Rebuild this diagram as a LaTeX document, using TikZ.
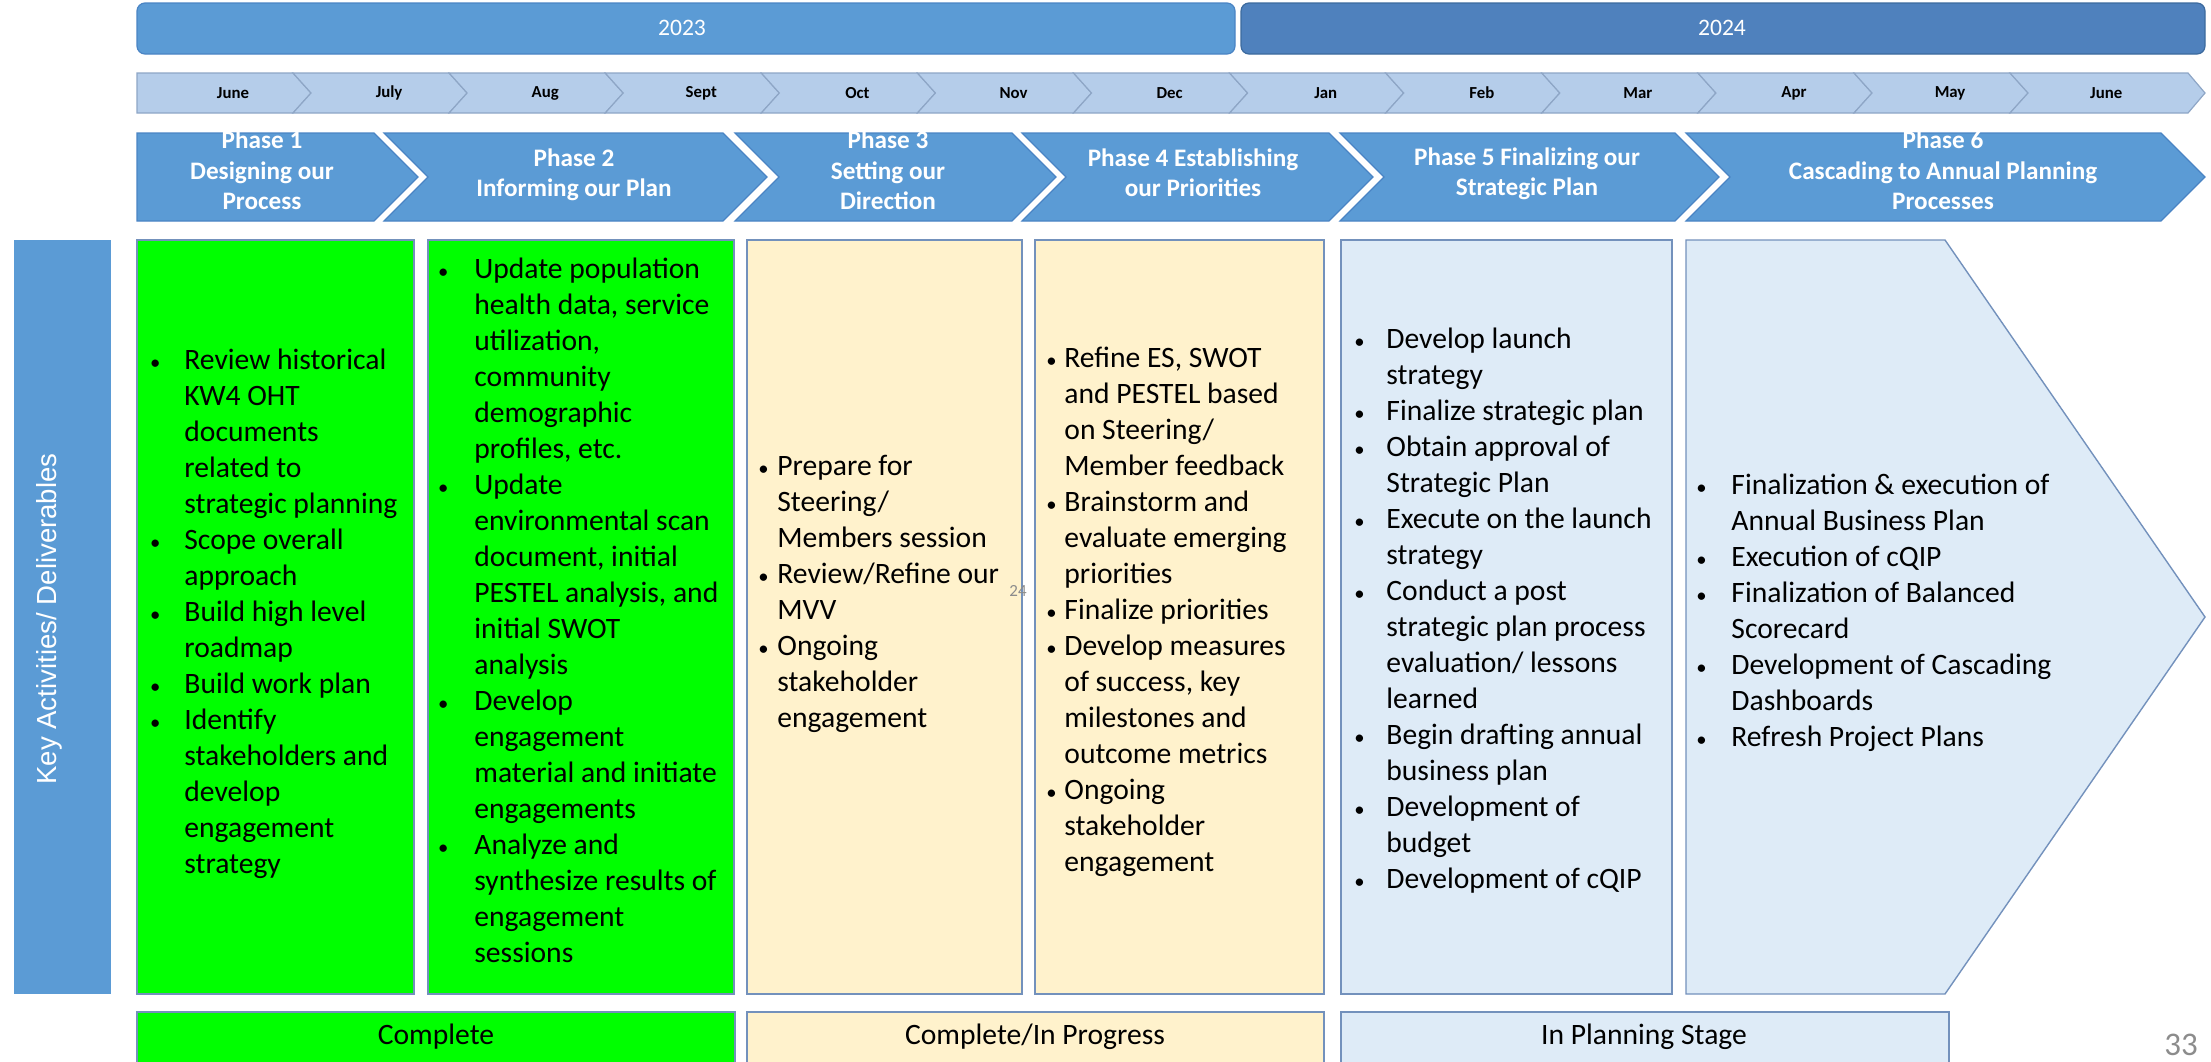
\documentclass[tikz,border=0pt]{standalone}
\usepackage{fontspec}
\setmainfont{Carlito}
\newfontfamily\arialfont{Liberation Sans}
\usetikzlibrary{positioning}
\definecolor{hdrblue}{HTML}{5B9BD5}
\definecolor{hdredge}{HTML}{4A84C4}
\definecolor{yrblue}{HTML}{4F81BD}
\definecolor{yredge}{HTML}{3C6A9E}
\definecolor{monfill}{HTML}{B5CDEA}
\definecolor{monedge}{HTML}{8EA6C6}
\definecolor{done}{HTML}{00FF00}
\definecolor{cream}{HTML}{FFF2CC}
\definecolor{paleblue}{HTML}{DEEBF7}
\definecolor{boxedge}{HTML}{7391BC}
\definecolor{muted}{HTML}{8C8C8C}
\newcommand{\bi}{\llap{\makebox[0pt]{\scalebox{0.7}{\textbullet}}\hspace*{\bd}}}
\def\bd{15pt}

\begin{document}
\begin{tikzpicture}[x=0.5pt, y=-0.5pt,
  chev/.style={fill=hdrblue, draw=hdredge, line width=0.6pt},
  monseg/.style={fill=monfill, draw=monedge, line width=0.6pt},
  panel/.style={draw=boxedge, line width=0.7pt},
  mon/.style={font=\fontsize{8.4}{10}\selectfont\bfseries, inner sep=0pt},
  yr/.style={font=\fontsize{11.8}{14}\selectfont, text=white, inner sep=0pt},
  phs/.style={font=\fontsize{12.6}{15.2}\selectfont\bfseries, text=white, align=center, inner sep=0pt,
    execute at begin node=\strut, execute at end node=\strut},
  txt/.style={font=\fontsize{14.8}{18}\selectfont, align=left, anchor=west, inner sep=0pt,
    execute at begin node=\strut, execute at end node=\strut},
  bgap/.code={\gdef\bd{#1}},
  stat/.style={font=\fontsize{14.8}{18}\selectfont, inner sep=0pt}]
  \useasboundingbox (0,0) rectangle (2211,1061);
  \clip (0,0) rectangle (2211,1061);

  % years
  \filldraw[fill=hdrblue, draw=hdredge, line width=0.6pt, rounded corners=4pt] (137,3) rectangle (1235,54);
  \filldraw[fill=yrblue, draw=yredge, line width=0.6pt, rounded corners=4pt] (1241,3) rectangle (2205,54);
  \node[yr] (y23) at (682,28) {2023};
  \node[yr] (y24) at (1722,28) {2024};

  % months
  \filldraw[monseg] (137,73) -- (293,73) -- (311,93) -- (293,113) -- (137,113) -- cycle;
  \foreach \k in {0,...,10} {
    \pgfmathsetmacro\xa{293+156.1*\k}
    \pgfmathsetmacro\xb{\xa+156.1}
    \filldraw[monseg] (\xa,73) -- (\xb,73) -- ({\xb+18},93) -- (\xb,113) -- (\xa,113) -- ({\xa+18},93) -- cycle;
  }
  \filldraw[monseg] (2010,73) -- (2188,73) -- (2205,93) -- (2188,113) -- (2010,113) -- (2028,93) -- cycle;
  \foreach \m [count=\i from 0] in {June,July,Aug,Sept,Oct,Nov,Dec,Jan,Feb,Mar,Apr,May,June}
    \node[mon] (m\i) at ({233+156.1*\i},93) {\m};

  % phases
  \filldraw[chev] (137,133) -- (374,133) -- (418,177) -- (374,221) -- (137,221) -- cycle;
  \foreach \l/\c in {384/723, 735/1012, 1022/1329, 1340/1675, 1686/2161}
    \filldraw[chev] (\l,133) -- (\c,133) -- ({\c+44},177) -- (\c,221) -- (\l,221) -- ({\l+44},177) -- cycle;
  \node[phs] (ph1) at (262,175) {Phase 1\\Designing our\\Process};
  \node[phs] (ph2) at (574,177) {Phase 2\\Informing our Plan};
  \node[phs] (ph3) at (888,175) {Phase 3\\Setting our\\Direction};
  \node[phs] (ph4) at (1193,177) {Phase 4 Establishing\\our Priorities};
  \node[phs] (ph5) at (1527,176) {Phase 5 Finalizing our\\Strategic Plan};
  \node[phs] (ph6) at (1943,175) {Phase 6\\Cascading to Annual Planning\\Processes};

  % side label
  \fill[hdrblue] (14,240) rectangle (111,994);
  \node[rotate=90, text=white, inner sep=0pt, font=\arialfont\fontsize{13.8}{16}\selectfont] (key) at (49,619) {Key Activities/ Deliverables};

  % panels
  \filldraw[panel, fill=done] (137,240) rectangle (414,994);
  \filldraw[panel, fill=done] (428,240) rectangle (734,994);
  \filldraw[panel, fill=cream] (747,240) rectangle (1022,994);
  \filldraw[panel, fill=cream] (1035,240) rectangle (1324,994);
  \filldraw[panel, fill=paleblue] (1341,240) rectangle (1672,994);
  \filldraw[panel, fill=paleblue] (1686,240) -- (1945,240) -- (2205,617) -- (1945,994) -- (1686,994) -- cycle;

  \node[txt, bgap=14.5pt] (b1) at (184,617) {\bi Review historical\\KW4 OHT\\documents\\related to\\strategic planning\\
    \bi Scope overall\\approach\\\bi Build high level\\roadmap\\\bi Build work plan\\
    \bi Identify\\stakeholders and\\develop\\engagement\\strategy};
  \node[txt, bgap=15.5pt] (b2) at (474,615.5) {\bi Update population\\health data, service\\utilization,\\community\\demographic\\profiles, etc.\\
    \bi Update\\environmental scan\\document, initial\\PESTEL analysis, and\\initial SWOT\\analysis\\
    \bi Develop\\engagement\\material and initiate\\engagements\\
    \bi Analyze and\\synthesize results of\\engagement\\sessions};
  \node[txt, bgap=7pt] (b3) at (777,597) {\bi Prepare for\\Steering/\\Members session\\
    \bi Review/Refine our\\MVV\\\bi Ongoing\\stakeholder\\engagement};
  \node[txt, bgap=6.5pt] (b4) at (1064,615) {\bi Refine ES, SWOT\\and PESTEL based\\on Steering/\\Member feedback\\
    \bi Brainstorm and\\evaluate emerging\\priorities\\\bi Finalize priorities\\
    \bi Develop measures\\of success, key\\milestones and\\outcome metrics\\
    \bi Ongoing\\stakeholder\\engagement};
  \node[txt, bgap=13.5pt] (b5) at (1386,614) {\bi Develop launch\\strategy\\\bi Finalize strategic plan\\
    \bi Obtain approval of\\Strategic Plan\\\bi Execute on the launch\\strategy\\
    \bi Conduct a post\\strategic plan process\\evaluation/ lessons\\learned\\
    \bi Begin drafting annual\\business plan\\\bi Development of\\budget\\\bi Development of cQIP};
  \node[txt, bgap=15pt] (b6) at (1731,615.5) {\bi Finalization \& execution of\\Annual Business Plan\\
    \bi Execution of cQIP\\\bi Finalization of Balanced\\Scorecard\\
    \bi Development of Cascading\\Dashboards\\\bi Refresh Project Plans};
  \node[text=muted, inner sep=0pt, font=\fontsize{8.5}{10}\selectfont] (n24) at (1018,591) {24};

  % status
  \filldraw[panel, fill=done] (137,1012) rectangle (735,1080);
  \filldraw[panel, fill=cream] (747,1012) rectangle (1324,1080);
  \filldraw[panel, fill=paleblue] (1341,1012) rectangle (1949,1080);
  \node[stat] (s1) at (436,1037) {Complete};
  \node[stat] (s2) at (1035,1037) {Complete/In Progress};
  \node[stat] (s3) at (1644,1037) {In Planning Stage};
  \node[text=muted, inner sep=0pt, font=\fontsize{16.5}{20}\selectfont] (pg) at (2181,1045) {33};
\end{tikzpicture}
\end{document}
